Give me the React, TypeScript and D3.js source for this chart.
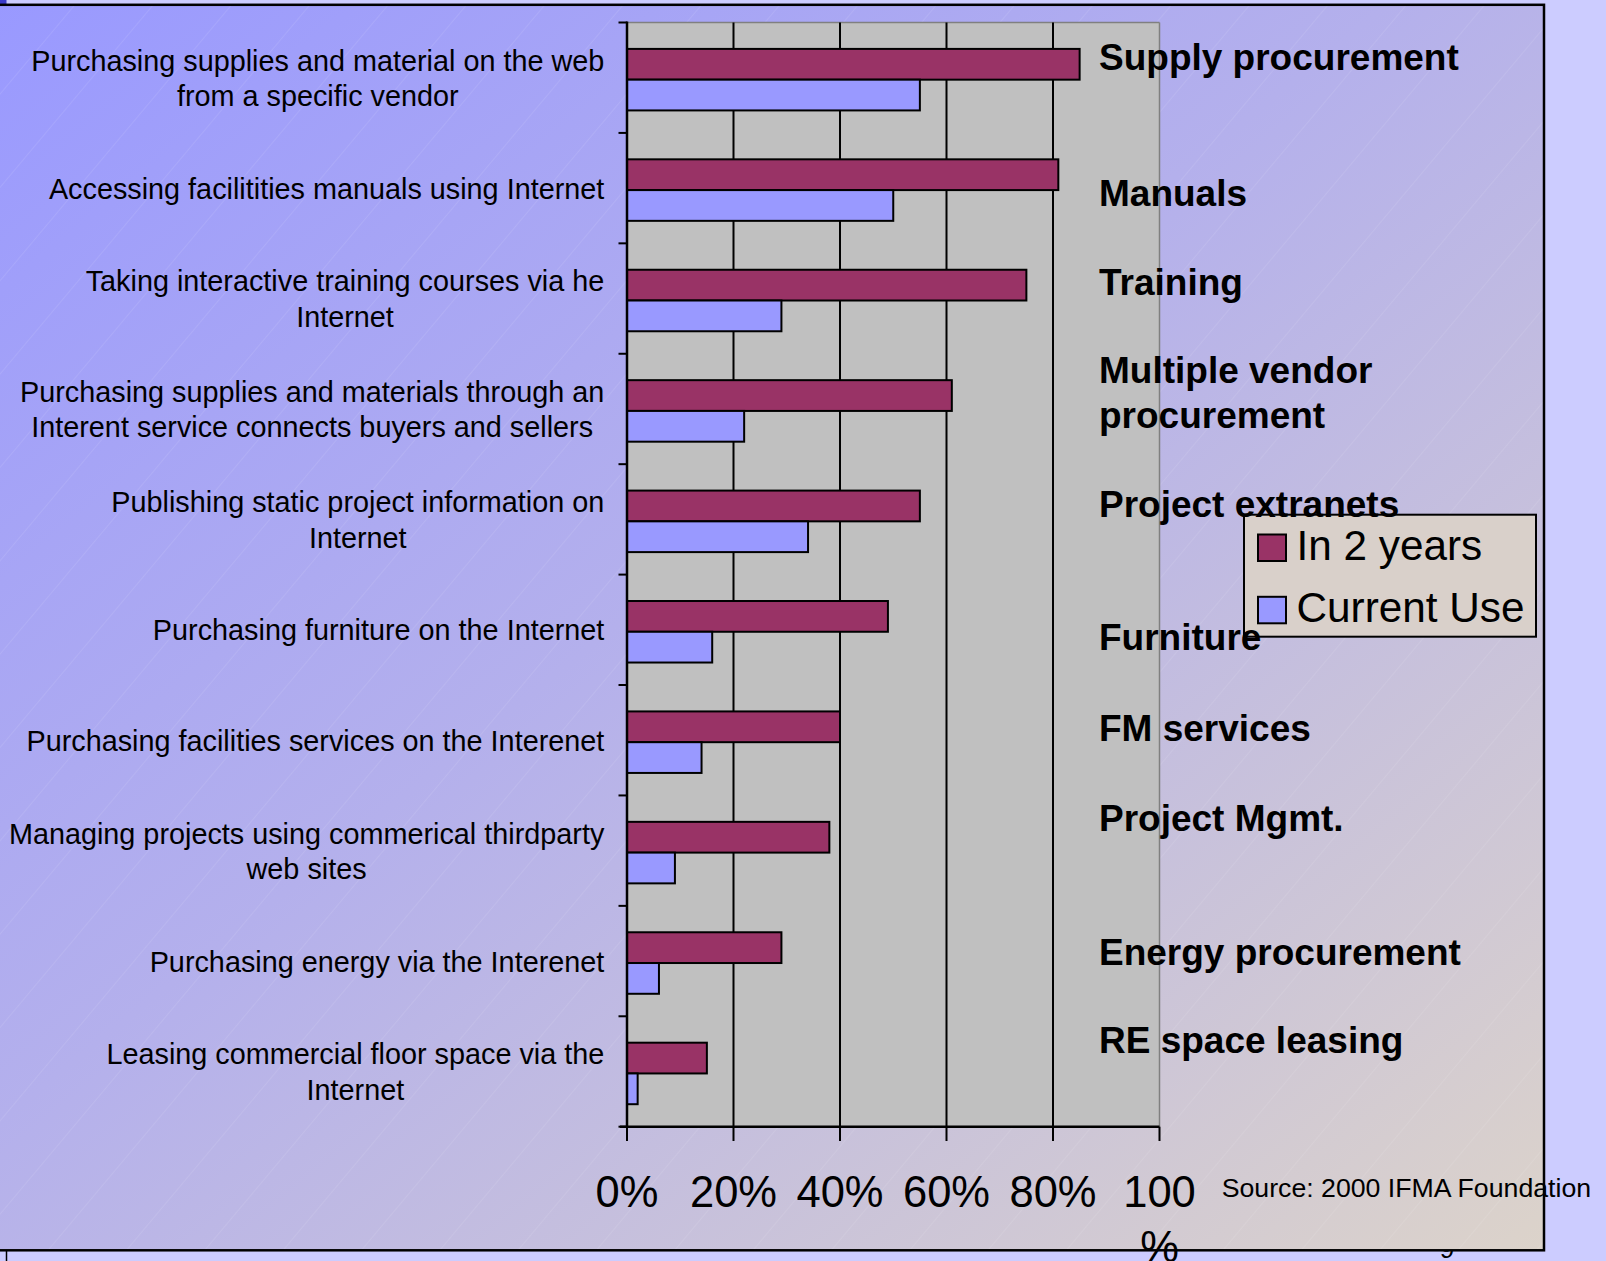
import React from "react";
import * as d3 from "d3";

// ---------- data ----------
const categories: string[][] = [
  ["Purchasing supplies and material on the web", "from a specific vendor"],
  ["Accessing facilitities manuals using Internet"],
  ["Taking interactive training courses via he", "Internet"],
  ["Purchasing supplies and materials through an", "Interent service connects buyers and sellers"],
  ["Publishing static project information on", "Internet"],
  ["Purchasing furniture on the Internet"],
  ["Purchasing facilities services on the Interenet"],
  ["Managing projects using commerical thirdparty", "web sites"],
  ["Purchasing energy via the Interenet"],
  ["Leasing commercial floor space via the", "Internet"],
];
const seriesNames = ["In 2 years", "Current Use"];
const in2Years = [0.85, 0.81, 0.75, 0.61, 0.55, 0.49, 0.4, 0.38, 0.29, 0.15];
const currentUse = [0.55, 0.5, 0.29, 0.22, 0.34, 0.16, 0.14, 0.09, 0.06, 0.02];
const xTicks = [0, 0.2, 0.4, 0.6, 0.8, 1.0];
const xTickLabels = [["0%"], ["20%"], ["40%"], ["60%"], ["80%"], ["100", "%"]];
const annotations: string[][] = [
  ["Supply procurement"],
  ["Manuals"],
  ["Training"],
  ["Multiple vendor", "procurement"],
  ["Project extranets"],
  ["Furniture"],
  ["FM services"],
  ["Project Mgmt."],
  ["Energy procurement"],
  ["RE space leasing"],
];
const sourceText = "Source: 2000 IFMA Foundation";

// ---------- layout / style ----------
const W = 1606;
const H = 1261;
const FONT = "'Liberation Sans', Arial, Helvetica, sans-serif";
const RED = "#993366";
const BLUE = "#9999FF";
const annotationBaselines = [70, 205.8, 295, 382.7, 517.2, 650.3, 740.5, 830.6, 964.8, 1052.9];

let _ctx: CanvasRenderingContext2D | null = null;
function measure(text: string, size: number, weight = "normal") {
  if (!_ctx) _ctx = document.createElement("canvas").getContext("2d");
  if (!_ctx) return text.length * size * 0.5;
  _ctx.font = `${weight} ${size}px ${FONT}`;
  return _ctx.measureText(text).width;
}

export default function App() {
  React.useEffect(() => {
    document.body.style.margin = "0";
    document.body.style.overflow = "hidden";
  }, []);

  const plotLeft = 627;
  const plotRight = 1159.5;
  const plotTop = 22.5;
  const plotBottom = 1126.7;

  const x = d3.scaleLinear().domain([0, 1]).range([plotLeft, plotRight]);
  const y = d3
    .scaleBand<number>()
    .domain(d3.range(categories.length))
    .range([plotTop, plotBottom])
    .padding(0);
  const ys = d3
    .scaleBand<string>()
    .domain(seriesNames)
    .range([0, y.bandwidth()])
    .paddingInner(0)
    .paddingOuter(0.795)
    .align(0.54);

  const seriesData = [in2Years, currentUse];
  const seriesColors = [RED, BLUE];

  const labelSize = 28.8;
  const labelRight = 604.3;
  const lineGap = 35.3;

  const boxX = -6;
  const boxY = 4.8;
  const boxR = 1544;
  const boxB = 1250.3;

  return (
    <svg
      width={W}
      height={H}
      viewBox={`0 0 ${W} ${H}`}
      style={{ position: "absolute", left: 0, top: 0, display: "block" }}
      fontFamily={FONT}
    >
      <defs>
        <linearGradient id="bg" x1="0" y1="0" x2="1" y2="1">
          <stop offset="0" stopColor="#9999FF" />
          <stop offset="0.45" stopColor="#B4B0EC" />
          <stop offset="1" stopColor="#DCD3CA" />
        </linearGradient>
        <pattern
          id="diag"
          width="60"
          height="60"
          patternUnits="userSpaceOnUse"
          patternTransform="rotate(40)"
        >
          <line x1="0" y1="0" x2="0" y2="60" stroke="#ffffff" strokeOpacity="0.18" strokeWidth="1" />
        </pattern>
      </defs>

      {/* slide background */}
      <rect x={0} y={0} width={W} height={H} fill="#CCCCFF" />
      <rect x={0} y={0} width={6.5} height={4} fill="#3A3AC8" />
      {/* slide number peeking under box */}
      <text x={1447} y={1258} fontSize={26} textAnchor="middle" fill="#000">9</text>
      <line x1={6.5} x2={6.5} y1={1251} y2={H} stroke="#000" strokeWidth={1.5} />

      {/* chart box */}
      <rect x={boxX} y={boxY} width={boxR - boxX} height={boxB - boxY} fill="url(#bg)" />
      <rect x={boxX} y={boxY} width={boxR - boxX} height={boxB - boxY} fill="url(#diag)" />

      {/* plot area */}
      <rect x={plotLeft} y={plotTop} width={plotRight - plotLeft} height={plotBottom - plotTop} fill="#C0C0C0" />
      <line x1={plotLeft} x2={plotRight} y1={plotTop} y2={plotTop} stroke="#808080" strokeWidth={1.5} />
      <line x1={plotRight} x2={plotRight} y1={plotTop} y2={plotBottom} stroke="#808080" strokeWidth={1.5} />

      {/* gridlines */}
      {xTicks
        .filter((t) => t > 0 && t < 1)
        .map((t) => (
          <line key={t} x1={x(t)} x2={x(t)} y1={plotTop} y2={plotBottom} stroke="#000" strokeWidth={2} />
        ))}

      {/* bars */}
      {categories.map((_, i) =>
        seriesNames.map((s, si) => (
          <rect
            key={`${i}-${s}`}
            x={x(0)}
            y={(y(i) as number) + (ys(s) as number)}
            width={x(seriesData[si][i]) - x(0)}
            height={ys.bandwidth()}
            fill={seriesColors[si]}
            stroke="#000"
            strokeWidth={2}
          />
        ))
      )}

      {/* axes */}
      <line x1={plotLeft} x2={plotLeft} y1={plotTop - 1} y2={plotBottom} stroke="#000" strokeWidth={2.5} />
      {d3.range(categories.length + 1).map((i) => {
        const yy = i < categories.length ? (y(i) as number) : plotBottom;
        return <line key={i} x1={618.5} x2={plotLeft} y1={yy} y2={yy} stroke="#000" strokeWidth={2} />;
      })}
      <line x1={620} x2={plotRight} y1={plotBottom} y2={plotBottom} stroke="#000" strokeWidth={2.5} />
      {xTicks.map((t) => (
        <line key={t} x1={x(t)} x2={x(t)} y1={plotBottom} y2={1141} stroke="#000" strokeWidth={2} />
      ))}

      {/* category labels */}
      {categories.map((lines, i) => {
        const maxW = d3.max(lines, (l) => measure(l, labelSize)) as number;
        const cx = labelRight - maxW / 2;
        const cy = (y(i) as number) + y.bandwidth() / 2;
        return (
          <text key={i} fontSize={labelSize} textAnchor="middle" fill="#000">
            {lines.map((l, li) => (
              <tspan key={li} x={cx} y={cy + (li - (lines.length - 1) / 2) * lineGap + 10.5}>
                {l}
              </tspan>
            ))}
          </text>
        );
      })}

      {/* x tick labels */}
      {xTicks.map((t, i) => (
        <text key={t} fontSize={43.5} textAnchor="middle" fill="#000">
          {xTickLabels[i].map((l, li) => (
            <tspan key={li} x={x(t)} y={1207 + li * 55}>
              {l}
            </tspan>
          ))}
        </text>
      ))}

      {/* legend */}
      <g>
        <rect x={1244} y={514.7} width={292} height={122} fill="#D9D0CA" stroke="#000" strokeWidth={2} />
        {seriesNames.map((s, si) => (
          <g key={s}>
            <rect
              x={1258}
              y={534.5 + si * 62.3}
              width={28}
              height={26.5}
              fill={seriesColors[si]}
              stroke="#000"
              strokeWidth={2}
            />
            <text x={1296.5} y={560 + si * 61.7} fontSize={42.3} fill="#000">
              {s}
            </text>
          </g>
        ))}
      </g>

      {/* annotations */}
      {annotations.map((lines, i) => (
        <text key={i} fontSize={37} fontWeight="bold" fill="#000">
          {lines.map((l, li) => (
            <tspan key={li} x={1099} y={annotationBaselines[i] + li * 45.6}>
              {l}
            </tspan>
          ))}
        </text>
      ))}

      {/* source */}
      <text x={1221.7} y={1196.7} fontSize={26.7} fill="#000">
        {sourceText}
      </text>

      {/* box border */}
      <rect
        x={boxX}
        y={boxY}
        width={boxR - boxX}
        height={boxB - boxY}
        fill="none"
        stroke="#000"
        strokeWidth={2.5}
      />
    </svg>
  );
}
